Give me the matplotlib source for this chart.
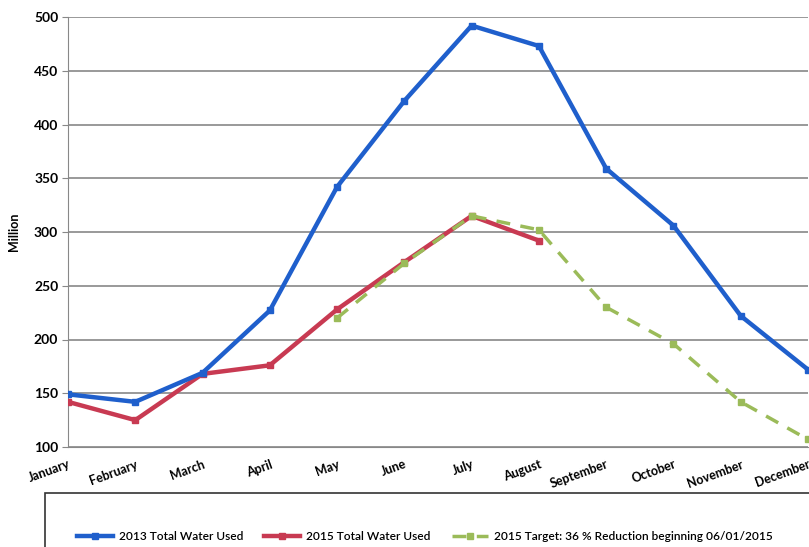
import matplotlib.pyplot as plt
from matplotlib.lines import Line2D
from matplotlib.patches import Rectangle

months = ['January', 'February', 'March', 'April', 'May', 'June', 'July',
          'August', 'September', 'October', 'November', 'December']
used_2013 = [149, 142, 169, 227, 342, 422, 492, 473, 359, 306, 222, 172]
used_2015 = [142, 125, 168, 176, 228, 272, 315, 292]
target_2015 = [220, 271, 315, 302, 230, 196, 142, 107]

blue = '#1f5fcc'
red = '#c83a52'
green = '#9bbb59'

plt.rcParams['font.family'] = ['Lato', 'DejaVu Sans']

fig = plt.figure(figsize=(8.09, 5.47), dpi=100)
ax = fig.add_axes([68 / 809, 1 - 447 / 547, 740 / 809, 430 / 547])

x_all = list(range(len(months)))
ax.plot(x_all, used_2013, color=blue, lw=3.2, marker='s', ms=5, zorder=4)
ax.plot(x_all[:len(used_2015)], used_2015, color=red, lw=3.2, marker='s', ms=5, zorder=3)
ax.plot(x_all[-len(target_2015):], target_2015, color=green, lw=2.5, ls=(0, (4, 3)),
        marker='s', ms=5, zorder=5)

ax.set_xlim(0, 11)
ax.set_ylim(100, 500)
ax.set_yticks(range(100, 501, 50))
ax.set_xticks(x_all)
ax.set_xticklabels(months, rotation=20, ha='right', rotation_mode='anchor',
                   fontsize=9, fontweight='bold')
for lbl in ax.get_yticklabels():
    lbl.set_fontweight('bold')
    lbl.set_fontsize(10)
ax.tick_params(axis='x', length=0, pad=8)
ax.tick_params(axis='y', length=4, color='#888888', pad=3)
ax.grid(axis='y', color='#888888', lw=1.2)
ax.set_axisbelow(True)
for s in ['top', 'right']:
    ax.spines[s].set_visible(False)
ax.spines['left'].set_color('#888888')
ax.spines['bottom'].set_color('#888888')
ax.set_ylabel('Million', fontsize=9, fontweight='bold', labelpad=10)

# legend box runs off the bottom/right edge
fig.patches.append(Rectangle((45 / 809, -0.1), 1.0, 0.1 + 1 - 493 / 547,
                             transform=fig.transFigure, fill=False,
                             edgecolor='#333333', lw=1.2))
handles = [
    Line2D([], [], color=blue, lw=3.2, marker='s', ms=5),
    Line2D([], [], color=red, lw=3.2, marker='s', ms=5),
    Line2D([], [], color=green, lw=2.5, ls=(0, (4, 3)), marker='s', ms=5),
]
labels = ['2013 Total Water Used', '2015 Total Water Used',
          '2015 Target: 36 % Reduction beginning 06/01/2015']
fig.legend(handles, labels, loc='center left', bbox_to_anchor=(72 / 809, 1 - 537 / 547),
           ncol=3, frameon=False, handlelength=3.0, handletextpad=0.5,
           columnspacing=1.8, borderaxespad=0,
           prop={'weight': 'semibold', 'size': 8.6})

fig.savefig('out.png', dpi=100, facecolor='white')
